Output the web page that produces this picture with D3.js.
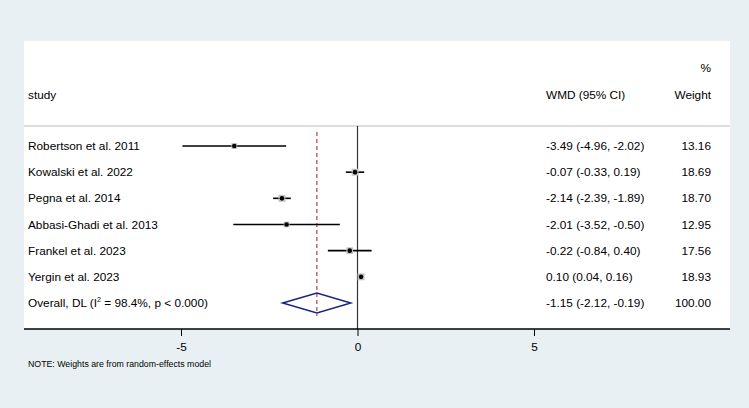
<!DOCTYPE html>
<html>
<head>
<meta charset="utf-8">
<script src="https://cdn.jsdelivr.net/npm/d3@7"></script>
<style>
  body { margin: 0; background: #e8f0f3; }
  svg { display: block; font-family: "Liberation Sans", Arial, sans-serif; }
</style>
</head>
<body>
<svg id="chart" width="749" height="408"></svg>
<script>
// study data
const studies = ["Robertson et al. 2011", "Kowalski et al. 2022", "Pegna et al. 2014",
  "Abbasi-Ghadi et al. 2013", "Frankel et al. 2023", "Yergin et al. 2023"];
const wmd = [-3.49, -0.07, -2.14, -2.01, -0.22, 0.10];
const lower = [-4.96, -0.33, -2.39, -3.52, -0.84, 0.04];
const upper = [-2.02, 0.19, -1.89, -0.50, 0.40, 0.16];
const weights = [13.16, 18.69, 18.70, 12.95, 17.56, 18.93];

const overall = { est: -1.15, lo: -2.12, hi: -0.19, weight: 100.00 };
const xTicks = [-5, 0, 5];

const svg = d3.select("#chart");
const W = 749, H = 408;

svg.append("rect").attr("width", W).attr("height", H).attr("fill", "#e8f0f3");

// white plot panel
const panel = { left: 24, right: 730, top: 41, bottom: 329 };
svg.append("rect")
  .attr("x", panel.left).attr("y", panel.top)
  .attr("width", panel.right - panel.left).attr("height", panel.bottom - panel.top)
  .attr("fill", "#fff");

const x = d3.scaleLinear().domain([-5, 5]).range([181, 534]);

const rowY = d3.scalePoint()
  .domain(d3.range(studies.length + 1))
  .range([146, 303]);

const colWmd = 546, colWt = 711;
const FS = 11.8;

// plain hyphen minus, like the original
const fmt = v => d3.format(".2f")(v).replace("\u2212", "-");

// headers
const hdr = svg.append("g").attr("font-size", FS).attr("fill", "#000");
hdr.append("text").attr("x", 28).attr("y", 99).text("study");
hdr.append("text").attr("x", colWmd).attr("y", 99).text("WMD (95% CI)");
hdr.append("text").attr("x", colWt).attr("y", 99).attr("text-anchor", "end").text("Weight");
hdr.append("text").attr("x", colWt).attr("y", 72).attr("text-anchor", "end").text("%");

// separator under header
svg.append("line")
  .attr("x1", panel.left).attr("x2", panel.right)
  .attr("y1", 126).attr("y2", 126)
  .attr("stroke", "#bdbdbd").attr("stroke-width", 1);

// no-effect line
svg.append("line")
  .attr("x1", x(0)).attr("x2", x(0))
  .attr("y1", 126).attr("y2", panel.bottom)
  .attr("stroke", "#333").attr("stroke-width", 1.2);

// overall effect dashed line
svg.append("line")
  .attr("x1", x(overall.est)).attr("x2", x(overall.est))
  .attr("y1", 132).attr("y2", 316)
  .attr("stroke", "#9b1c1c").attr("stroke-width", 1)
  .attr("stroke-dasharray", "4,3");

const rows = studies.map((s, i) => ({
  name: s, est: wmd[i], lo: lower[i], hi: upper[i], w: weights[i], i
}));

const g = svg.append("g");

// CI lines
g.selectAll("line.ci")
  .data(rows)
  .join("line")
  .attr("class", "ci")
  .attr("x1", d => x(d.lo)).attr("x2", d => x(d.hi))
  .attr("y1", d => rowY(d.i)).attr("y2", d => rowY(d.i))
  .attr("stroke", "#000").attr("stroke-width", 1.6);

// weight boxes
const boxSide = w => 1.6 * Math.sqrt(w);
g.selectAll("rect.box")
  .data(rows)
  .join("rect")
  .attr("class", "box")
  .attr("x", d => x(d.est) - boxSide(d.w) / 2)
  .attr("y", d => rowY(d.i) - boxSide(d.w) / 2)
  .attr("width", d => boxSide(d.w))
  .attr("height", d => boxSide(d.w))
  .attr("fill", "#c2c2c2");

// point estimates
g.selectAll("circle.pt")
  .data(rows)
  .join("circle")
  .attr("class", "pt")
  .attr("cx", d => x(d.est)).attr("cy", d => rowY(d.i))
  .attr("r", 2.3).attr("fill", "#000");

// labels
const txt = svg.append("g").attr("font-size", FS).attr("fill", "#000");
txt.selectAll("text.name")
  .data(rows)
  .join("text")
  .attr("x", 28).attr("y", d => rowY(d.i) + 4)
  .text(d => d.name);
txt.selectAll("text.eff")
  .data(rows)
  .join("text")
  .attr("x", colWmd).attr("y", d => rowY(d.i) + 4)
  .text(d => `${fmt(d.est)} (${fmt(d.lo)}, ${fmt(d.hi)})`);
txt.selectAll("text.wt")
  .data(rows)
  .join("text")
  .attr("x", colWt).attr("y", d => rowY(d.i) + 4)
  .attr("text-anchor", "end")
  .text(d => fmt(d.w));

// overall row
const oy = rowY(studies.length);
const ol = txt.append("text").attr("x", 28).attr("y", oy + 4);
ol.append("tspan").text("Overall, DL (I");
ol.append("tspan").attr("font-size", 7).attr("dy", -5).text("2");
ol.append("tspan").attr("dy", 5).text(" = 98.4%, p < 0.000)");
txt.append("text").attr("x", colWmd).attr("y", oy + 4)
  .text(`${fmt(overall.est)} (${fmt(overall.lo)}, ${fmt(overall.hi)})`);
txt.append("text").attr("x", colWt).attr("y", oy + 4).attr("text-anchor", "end")
  .text(fmt(overall.weight));

svg.append("polygon")
  .attr("points", [
    [x(overall.lo), oy], [x(overall.est), oy - 10],
    [x(overall.hi), oy], [x(overall.est), oy + 10]
  ].map(p => p.join(",")).join(" "))
  .attr("fill", "none").attr("stroke", "#1a237e").attr("stroke-width", 1.5);

// x axis
const axis = svg.append("g")
  .attr("transform", `translate(0,${panel.bottom})`)
  .call(d3.axisBottom(x).tickValues(xTicks).tickSize(7).tickPadding(7)
    .tickFormat(d => String(d)));
axis.select(".domain").remove();
axis.selectAll(".tick line").attr("stroke", "#000");
axis.selectAll(".tick text").attr("font-size", FS).attr("font-family", "Liberation Sans, Arial, sans-serif").attr("fill", "#000");
svg.append("line")
  .attr("x1", panel.left).attr("x2", panel.right)
  .attr("y1", panel.bottom).attr("y2", panel.bottom)
  .attr("stroke", "#000").attr("stroke-width", 1.4);

// note
svg.append("text")
  .attr("x", 28).attr("y", 367)
  .attr("font-size", 8.5)
  .attr("textLength", 183).attr("lengthAdjust", "spacingAndGlyphs")
  .text("NOTE: Weights are from random-effects model");
</script>
</body>
</html>
